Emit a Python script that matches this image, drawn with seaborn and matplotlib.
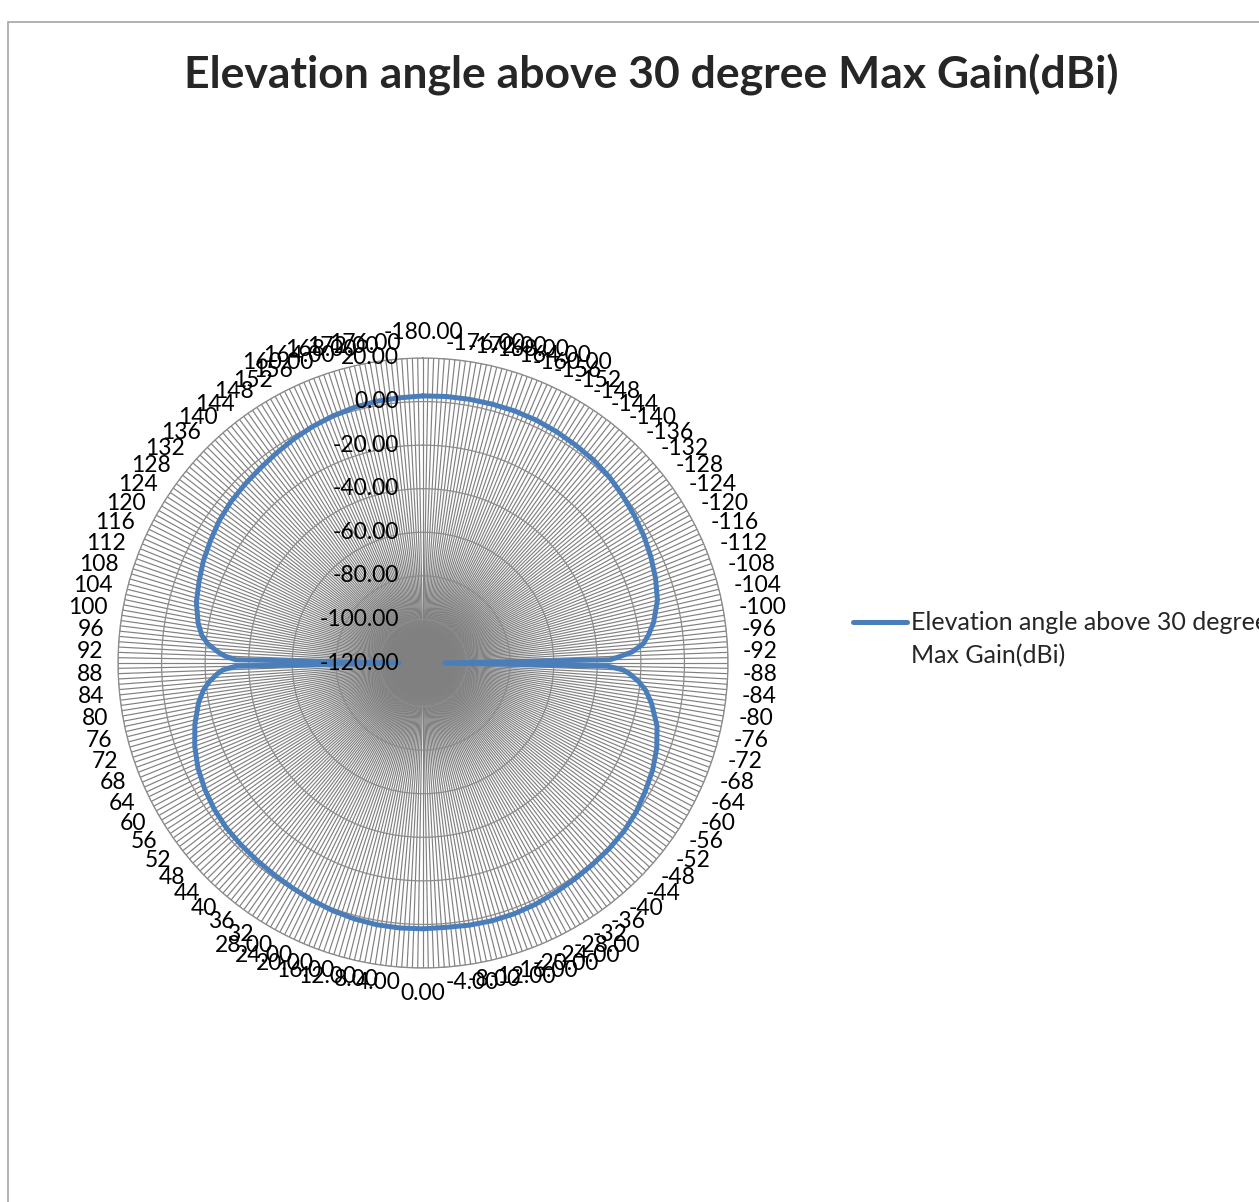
import numpy as np
import pandas as pd
import matplotlib
matplotlib.use('Agg')
import matplotlib.pyplot as plt
import seaborn as sns
from matplotlib.transforms import offset_copy
from matplotlib.lines import Line2D
from matplotlib.patches import Rectangle

# azimuth angle (deg) and gain (dBi)
angles = [-180, -175, -170, -165, -160, -155, -150, -145, -140, -135, -130, -125,
          -120, -115, -110, -105, -100, -97, -95, -93, -92, -91, -90, -89, -88,
          -87, -85, -83, -80, -75, -70, -65, -60, -55, -50, -45, -40, -35, -30,
          -25, -20, -15, -10, -5, 0, 5, 10, 15, 20, 25, 30, 35, 40, 45, 50, 55,
          60, 65, 70, 75, 80, 83, 85, 87, 88, 89, 90, 91, 92, 93, 95, 97, 100,
          105, 110, 115, 120, 125, 130, 135, 140, 145, 150, 155, 160, 165, 170,
          175, 180]
gain = [2.6, 2.8, 2.9, 3.0, 3.1, 3.0, 2.6, 2.1, 1.7, 0.9, -0.4, -1.7,
        -3.0, -4.6, -6.4, -8.6, -12.5, -15.8, -18.5, -24.0, -29.0, -34.0, -110.0, -35.0, -28.0,
        -25.0, -20.5, -17.0, -13.5, -8.8, -5.8, -3.7, -2.2, -0.6, 0.3, 0.7, 0.9, 1.2, 1.6,
        2.2, 2.5, 2.5, 2.2, 1.8, 2.0, 2.1, 2.0, 1.6, 1.0, 0.2, -0.6, -1.2, -1.6, -1.9, -2.2, -3.0,
        -4.3, -6.0, -8.5, -11.6, -15.4, -18.5, -21.5, -25.5, -28.0, -34.0, -109.0, -34.0, -29.0, -26.0, -21.0, -17.8, -15.2,
        -12.3, -10.6, -8.8, -7.4, -5.9, -4.9, -4.2, -3.5, -2.5, -1.3, -0.2, 0.7, 1.5, 2.0,
        2.2, 2.6]

r_ticks = [-120, -100, -80, -60, -40, -20, 0, 20]
cat_ticks = list(range(-180, 180, 4))
series_name = 'Elevation angle above 30 degree Max Gain(dBi)'

df = pd.DataFrame({'theta': np.deg2rad(angles), 'gain': gain})

sns.set_style('white')
plt.rcParams['font.family'] = ['Lato', 'DejaVu Sans']

fig = plt.figure(figsize=(12.59, 12.02), dpi=100)
ax = fig.add_axes([118 / 1259, 1 - 968 / 1202, 610 / 1259, 610 / 1202], projection='polar')

sns.lineplot(data=df, x='theta', y='gain', ax=ax, sort=False, estimator=None,
             color='#4a7ebb', linewidth=3.6, legend=False, zorder=5)
ax.lines[-1].set_solid_capstyle('round')
ax.lines[-1].set_solid_joinstyle('round')
ax.set_xlabel('')
ax.set_ylabel('')

ax.set_theta_zero_location('S')
ax.set_theta_direction(-1)
ax.set_thetalim(-np.pi, np.pi)
ax.set_rlim(-120, 20)

grid_col = '#8c8c8c'
# one spoke per degree, like the excel radar categories
ax.set_xticks(np.deg2rad(np.arange(-180, 180, 1)))
ax.set_xticklabels([])
ax.set_yticks(r_ticks)
ax.set_yticklabels([])
ax.xaxis.grid(True, color='#808080', lw=0.85)
ax.yaxis.grid(True, color=grid_col, lw=0.9)
ax.spines['polar'].set_color(grid_col)
ax.spines['polar'].set_linewidth(0.9)
ax.tick_params(length=0)

fs = 16.5
# radial value labels, left of the top spoke
for v in r_ticks:
    tr = offset_copy(ax.transData, fig=fig, x=-24, y=0, units='dots')
    ax.text(np.pi, v, f'{v:.2f}', transform=tr, ha='right', va='center',
            fontsize=fs, color='black', zorder=6)

# category labels around the rim
pad = 15
for a in cat_ticks:
    ux = -np.sin(np.deg2rad(a))
    uy = -np.cos(np.deg2rad(a))
    if abs(a) <= 28 or abs(a) >= 160:
        lab = f'{a:.2f}'
    else:
        lab = f'{a}'
    if a == -180:
        ha, va = 'center', 'bottom'
    elif a == 0:
        ha, va = 'center', 'top'
    else:
        ha = 'left' if ux > 0 else 'right'
        va = 'center'
    tr = offset_copy(ax.transData, fig=fig, x=pad * ux, y=pad * uy, units='dots')
    ax.text(np.deg2rad(a), 20, lab, transform=tr, ha=ha, va=va, fontsize=fs,
            color='black', clip_on=False)

fig.text(651 / 1259, 1 - 75 / 1202, series_name, ha='center', va='center',
         fontsize=32, fontweight='bold')

# legend entry
fig.add_artist(Line2D([853 / 1259, 907 / 1259], [1 - 622 / 1202, 1 - 622 / 1202],
                      color='#4a7ebb', lw=3.6, solid_capstyle='round'))
fig.text(911 / 1259, 1 - 622 / 1202, 'Elevation angle above 30 degree', ha='left',
         va='center', fontsize=18)
fig.text(911 / 1259, 1 - 656 / 1202, 'Max Gain(dBi)', ha='left', va='center', fontsize=18)

# chart area border
fig.add_artist(Rectangle((8 / 1259, -0.01), 1.2, 1 - 22 / 1202 + 0.01,
                         transform=fig.transFigure, fill=False, edgecolor='#a6a6a6', lw=1.2))

fig.savefig('out.png', dpi=100)
